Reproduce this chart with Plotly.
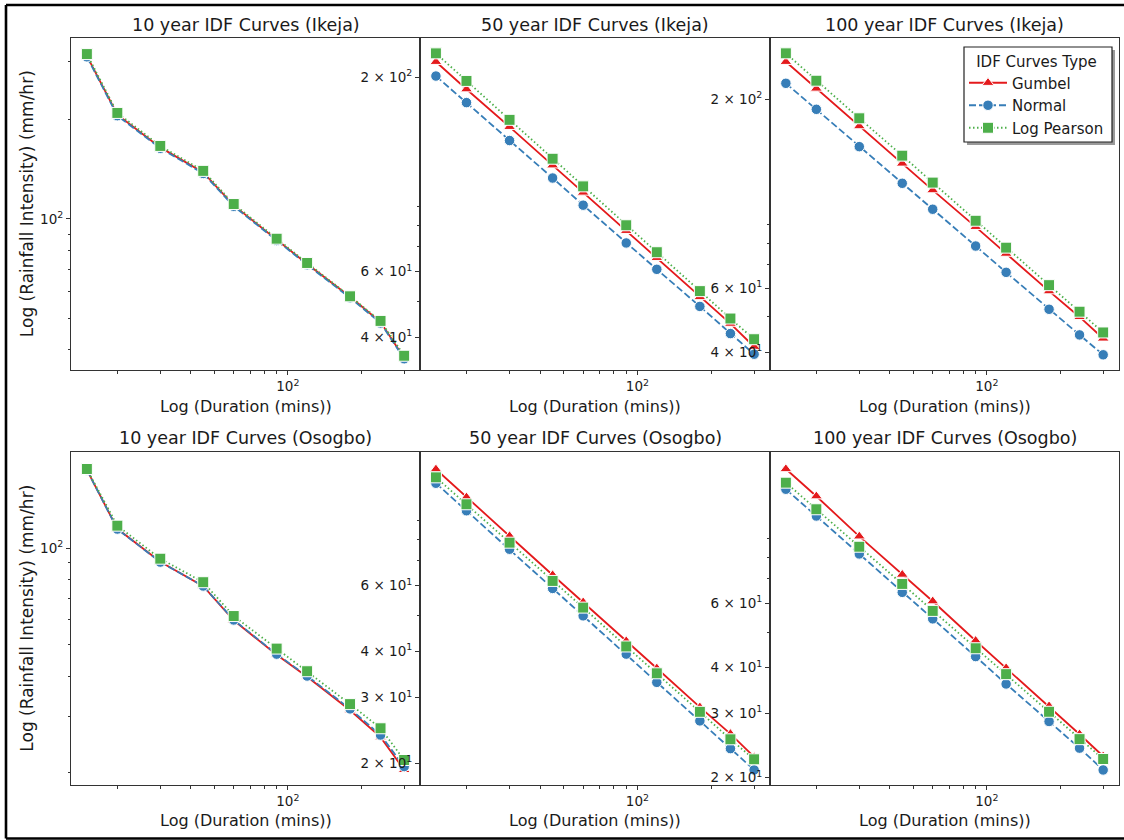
import plotly.graph_objects as go

# ---------------- data ----------------
durations = [15, 20, 30, 45, 60, 90, 120, 180, 240, 300]

panel_titles = [
    "10 year IDF Curves (Ikeja)", "50 year IDF Curves (Ikeja)", "100 year IDF Curves (Ikeja)",
    "10 year IDF Curves (Osogbo)", "50 year IDF Curves (Osogbo)", "100 year IDF Curves (Osogbo)",
]
series_names = ["Gumbel", "Normal", "Log Pearson"]

ikeja10_gumbel = [313, 207.5, 165, 138.5, 110, 86.5, 73.0, 58.0, 48.6, 37.8]
ikeja10_normal = [311, 206, 164, 137.5, 109.3, 86.0, 72.6, 57.6, 48.3, 37.6]
ikeja10_lp = [317, 210, 166.7, 140, 111, 87.1, 73.5, 58.2, 49.0, 38.4]

ikeja50_gumbel = [220.2, 185.8, 147.2, 116.0, 98.0, 77.3, 65.4, 51.3, 43.5, 37.7]
ikeja50_normal = [201.6, 171.0, 135.2, 107.2, 90.6, 71.7, 60.9, 48.4, 40.9, 36.0]
ikeja50_lp = [232, 195.6, 153.7, 120.8, 101.8, 80.0, 67.7, 53.2, 44.9, 39.5]

ikeja100_gumbel = [253.4, 213.8, 168.3, 132.7, 112.0, 88.7, 74.8, 58.9, 50.0, 43.6]
ikeja100_normal = [221.0, 187.3, 147.7, 117.0, 99.2, 78.5, 66.4, 52.5, 44.6, 39.3]
ikeja100_lp = [267.4, 224.7, 176.9, 139.5, 117.5, 92.2, 77.7, 61.2, 51.7, 45.3]

osogbo10_gumbel = [175.5, 115.0, 90.8, 76.2, 59.6, 46.6, 39.8, 31.3, 25.8, 20.4]
osogbo10_normal = [175.4, 114.8, 90.6, 76.3, 59.8, 46.8, 40.0, 31.6, 26.2, 20.9]
osogbo10_lp = [176.6, 117.6, 92.8, 78.4, 61.5, 48.7, 41.4, 32.7, 27.5, 21.9]

osogbo50_gumbel = [123.3, 103.7, 81.6, 64.1, 54.2, 42.6, 36.0, 28.3, 24.0, 20.8]
osogbo50_normal = [113.1, 95.4, 75.2, 59.0, 49.8, 39.3, 33.0, 26.0, 21.9, 19.2]
osogbo50_lp = [117.3, 99.3, 78.3, 61.8, 52.4, 41.2, 34.9, 27.5, 23.2, 20.5]

osogbo100_gumbel = [139.8, 117.8, 91.5, 71.9, 60.8, 47.4, 39.9, 31.4, 26.3, 22.9]
osogbo100_normal = [123.1, 104.0, 81.9, 64.3, 54.4, 42.9, 36.1, 28.5, 24.1, 21.0]
osogbo100_lp = [128.3, 108.5, 85.7, 67.8, 57.2, 45.2, 38.4, 30.3, 25.5, 22.5]

panels_data = [
    (ikeja10_gumbel, ikeja10_normal, ikeja10_lp),
    (ikeja50_gumbel, ikeja50_normal, ikeja50_lp),
    (ikeja100_gumbel, ikeja100_normal, ikeja100_lp),
    (osogbo10_gumbel, osogbo10_normal, osogbo10_lp),
    (osogbo50_gumbel, osogbo50_normal, osogbo50_lp),
    (osogbo100_gumbel, osogbo100_normal, osogbo100_lp),
]

# tick labels
x_major_vals = [100]
x_major_text = ["10<sup>2</sup>"]
x_minor_vals = [20, 30, 40, 50, 60, 70, 80, 90, 200, 300]

y_tick_vals = [
    [100],
    [40, 60, 200],
    [40, 60, 200],
    [100],
    [20, 30, 40, 60],
    [20, 30, 40, 60],
]
y_tick_text = [
    ["10<sup>2</sup>"],
    ["4 × 10<sup>1</sup>", "6 × 10<sup>1</sup>", "2 × 10<sup>2</sup>"],
    ["4 × 10<sup>1</sup>", "6 × 10<sup>1</sup>", "2 × 10<sup>2</sup>"],
    ["10<sup>2</sup>"],
    ["2 × 10<sup>1</sup>", "3 × 10<sup>1</sup>", "4 × 10<sup>1</sup>", "6 × 10<sup>1</sup>"],
    ["2 × 10<sup>1</sup>", "3 × 10<sup>1</sup>", "4 × 10<sup>1</sup>", "6 × 10<sup>1</sup>"],
]
y_minor_vals = [
    [40, 50, 60, 70, 80, 90, 200, 300],
    [50, 70, 80, 90],
    [50, 70, 80, 90],
    [20, 30, 40, 50, 60, 70, 80, 90],
    [50, 70, 80, 90],
    [50, 70, 80, 90],
]

# ---------------- layout helpers (pixel geometry) ----------------
W, H = 1124, 840
def px(x):
    return x / W
def py(y):
    return 1 - y / H

col_edges = [(71, 420), (420, 770), (770, 1119)]
row_edges = [(38.3, 370), (452.3, 785)]
x_range = [1.111, 2.542]
y_ranges = [
    [1.541, 2.549],
    [1.5138, 2.406],
    [1.5524, 2.4687],
    [1.2626, 2.299],
    [1.2427, 2.1366],
    [1.2811, 2.1913],
]

colors = ["#e41a1c", "#377eb8", "#4daf4a"]
symbols = ["triangle-up", "circle", "square"]
dashes = ["solid", "7px,3px", "1.5px,2.5px"]
msizes = [10.5, 10.5, 11]

FONT = "DejaVu Sans"
TXT = "#1a1a1a"

fig = go.Figure()

for i, series in enumerate(panels_data):
    xa = "x" if i == 0 else f"x{i+1}"
    ya = "y" if i == 0 else f"y{i+1}"
    for k, vals in enumerate(series):
        fig.add_trace(go.Scatter(
            x=durations, y=vals, xaxis=xa, yaxis=ya,
            mode="lines+markers", name=series_names[k],
            legendgroup=series_names[k], showlegend=(i == 2),
            line=dict(color=colors[k], width=1.8, dash=dashes[k]),
            marker=dict(symbol=symbols[k], size=msizes[k], color=colors[k],
                        line=dict(color="white", width=1)),
        ))

layout = dict(
    width=W, height=H,
    margin=dict(l=0, r=0, t=0, b=0),
    paper_bgcolor="white", plot_bgcolor="white",
    font=dict(family=FONT, color=TXT, size=13),
    legend=dict(
        x=px(964), y=py(47), xanchor="left", yanchor="top",
        bgcolor="rgba(0,0,0,0)", borderwidth=0,
        font=dict(size=15, family=FONT, color=TXT),
        title=dict(text="IDF Curves Type", side="top center", font=dict(size=15, family=FONT, color=TXT)),
        tracegroupgap=0, itemwidth=38,
    ),
    annotations=[], shapes=[],
)

for i in range(6):
    r, c = divmod(i, 3)
    xk = "xaxis" if i == 0 else f"xaxis{i+1}"
    yk = "yaxis" if i == 0 else f"yaxis{i+1}"
    x0, x1 = col_edges[c]
    y0, y1 = row_edges[r]
    ya_name = "y" if i == 0 else f"y{i+1}"
    xa_name = "x" if i == 0 else f"x{i+1}"
    layout[xk] = dict(
        type="log", range=x_range, domain=[px(x0), px(x1)], anchor=ya_name,
        showgrid=False, zeroline=False, showline=True, mirror=True,
        linecolor="#333", linewidth=1,
        tickmode="array", tickvals=x_major_vals, ticktext=x_major_text,
        ticks="outside", ticklen=4, tickwidth=1, tickcolor="#333",
        tickfont=dict(size=13.5, family=FONT, color=TXT),
        minor=dict(tickmode="array", tickvals=x_minor_vals, ticks="outside",
                   ticklen=2.5, tickwidth=0.8, tickcolor="#333", showgrid=False),
        automargin=False, fixedrange=True,
    )
    layout[yk] = dict(
        type="log", range=y_ranges[i], domain=[py(y1), py(y0)], anchor=xa_name,
        showgrid=False, zeroline=False, showline=True, mirror=True,
        linecolor="#333", linewidth=1,
        tickmode="array", tickvals=y_tick_vals[i], ticktext=y_tick_text[i],
        ticks="outside", ticklen=4, tickwidth=1, tickcolor="#333",
        tickfont=dict(size=13.5, family=FONT, color=TXT),
        minor=dict(tickmode="array", tickvals=y_minor_vals[i], ticks="outside",
                   ticklen=2.5, tickwidth=0.8, tickcolor="#333", showgrid=False),
        automargin=False, fixedrange=True,
    )
    title_y = 25 if r == 0 else 438.3
    layout["annotations"].append(dict(
        text=panel_titles[i], x=px((x0 + x1) / 2), y=py(title_y), xref="paper", yref="paper",
        xanchor="center", yanchor="middle", showarrow=False,
        font=dict(size=17.5, family=FONT, color=TXT)))
    xl_y = 406 if r == 0 else 820
    layout["annotations"].append(dict(
        text="Log (Duration (mins))", x=px((x0 + x1) / 2), y=py(xl_y), xref="paper", yref="paper",
        xanchor="center", yanchor="middle", showarrow=False,
        font=dict(size=16, family=FONT, color=TXT)))

for r in range(2):
    y0, y1 = row_edges[r]
    layout["annotations"].append(dict(
        text="Log (Rainfall Intensity) (mm/hr)", x=px(27), y=py((y0 + y1) / 2),
        xref="paper", yref="paper", xanchor="center", yanchor="middle",
        textangle=-90, showarrow=False, font=dict(size=17, family=FONT, color=TXT)))

# legend box with shadow
layout["shapes"].append(dict(type="rect", xref="paper", yref="paper",
                             x0=px(967), x1=px(1115), y0=py(145), y1=py(50),
                             fillcolor="#9a9a9a", line=dict(width=0), layer="above"))
layout["shapes"].append(dict(type="rect", xref="paper", yref="paper",
                             x0=px(964), x1=px(1112), y0=py(142), y1=py(47),
                             fillcolor="white", line=dict(color="#222", width=1.2), layer="above"))
# outer image frame
frame = dict(color="black", width=2.6)
layout["shapes"].append(dict(type="line", xref="paper", yref="paper", x0=px(6), x1=px(1130), y0=py(5), y1=py(5), line=frame))
layout["shapes"].append(dict(type="line", xref="paper", yref="paper", x0=px(6), x1=px(6), y0=py(5), y1=py(838.5), line=frame))
layout["shapes"].append(dict(type="line", xref="paper", yref="paper", x0=px(6), x1=px(1130), y0=py(838.5), y1=py(838.5), line=frame))

fig.update_layout(**layout)
fig.write_html("out.html", config={"displayModeBar": False},
               post_script="document.body.style.margin='0px';document.body.style.padding='0px';")
